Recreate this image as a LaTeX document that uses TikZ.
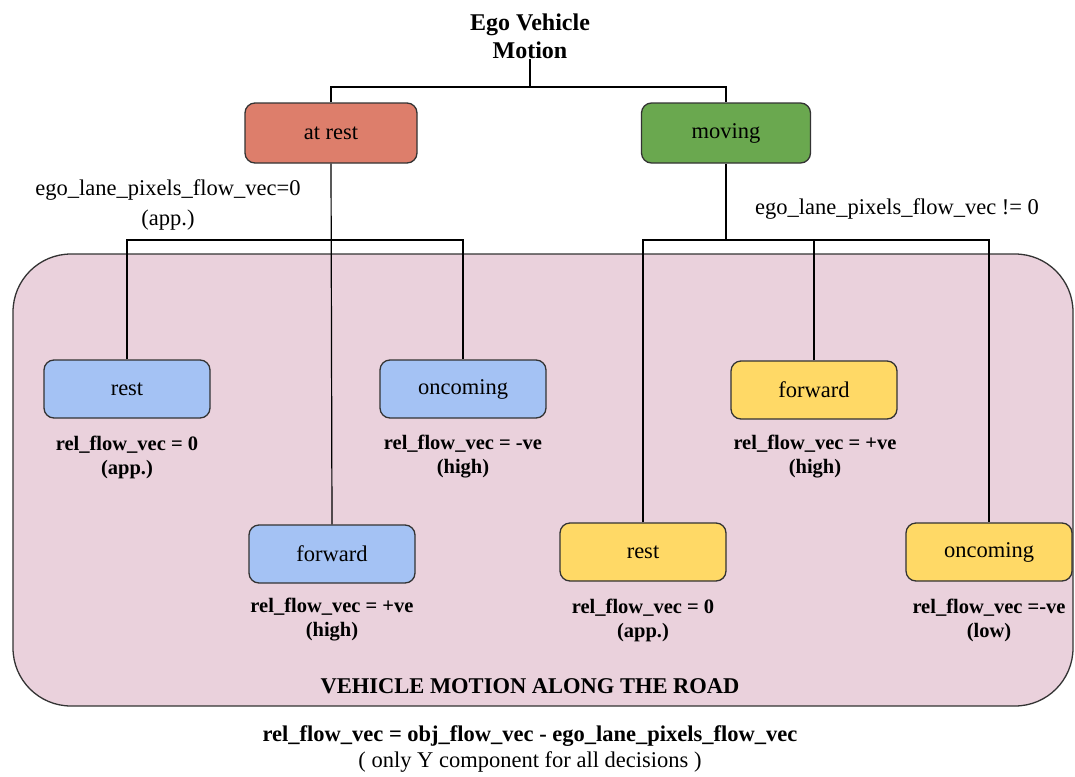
\documentclass[tikz,border=0pt]{standalone}
\usepackage{fontspec}
\setmainfont{Liberation Serif}
\definecolor{restred}{HTML}{DD7E6B}
\definecolor{movegreen}{HTML}{6AA84F}
\definecolor{boxblue}{HTML}{A4C2F4}
\definecolor{boxyellow}{HTML}{FFD966}
\definecolor{roadpink}{HTML}{EAD1DC}
\definecolor{edgegray}{HTML}{333333}
\begin{document}
\begin{tikzpicture}[x=1pt,y=-1pt,
  decision/.style={draw=edgegray, line width=1.3pt, rounded corners=10pt,
    minimum width=166pt, minimum height=58pt, inner sep=0pt,
    font=\fontsize{22.5}{26}\selectfont},
  link/.style={draw=black, line width=1.2pt},
  cond/.style={align=center, inner sep=0pt, font=\fontsize{22.5}{30}\selectfont},
  result/.style={align=center, inner sep=0pt, font=\bfseries\fontsize{20.5}{24}\selectfont}]
\useasboundingbox (0,0) rectangle (1075,776);

% region of motion along the road
\path[fill=roadpink, draw=edgegray, line width=1.3pt, rounded corners=58pt]
  (13,254) rectangle (1073,706);

% root
\node[align=center, inner sep=0pt, font=\bfseries\fontsize{24}{28}\selectfont]
  (title) at (530,36) {Ego Vehicle\\Motion};

% ego states
\node[decision, fill=restred, minimum width=172pt, minimum height=60pt] (atrest) at (331,133) {at rest};
\node[decision, fill=movegreen, minimum width=169pt, minimum height=60pt] (moving) at (726,133) {moving};

% outcomes when ego is at rest
\node[decision, fill=boxblue] (restA) at (127,389) {rest};
\node[decision, fill=boxblue] (oncA) at (463,389) {oncoming};
\node[decision, fill=boxblue] (fwdA) at (332,554) {forward};

% outcomes when ego is moving
\node[decision, fill=boxyellow] (fwdB) at (814,390) {forward};
\node[decision, fill=boxyellow] (restB) at (643,552) {rest};
\node[decision, fill=boxyellow] (oncB) at (989,552) {oncoming};

% junction points
\coordinate (j0) at (530,87);
\coordinate (j1) at (331,240);
\coordinate (j2) at (726,240);

% connectors
\draw[link] (title.south) -- (j0);
\draw[link] (atrest.north) |- (j0) -| (moving.north);
\draw[link] (atrest.south) -- (fwdA.north);
\draw[link] (restA.north) |- (j1) -| (oncA.north);
\draw[link] (moving.south) -- (j2);
\draw[link] (restB.north) |- (j2) -| (oncB.north);
\draw[link] (fwdB.north) -- (fwdB.north |- j2);

% branch conditions
\node[cond] (condA) at (168,205) {ego\_lane\_pixels\_flow\_vec=0\\(app.)};
\node[cond] (condB) at (897,209) {ego\_lane\_pixels\_flow\_vec != 0};

% relative flow results
\node[result] (resRestA) at (127,457) {rel\_flow\_vec = 0\\(app.)};
\node[result] (resOncA) at (463,457) {rel\_flow\_vec = -ve\\(high)};
\node[result] (resFwdA) at (332,620) {rel\_flow\_vec = +ve\\(high)};
\node[result] (resFwdB) at (815,457) {rel\_flow\_vec = +ve\\(high)};
\node[result] (resRestB) at (643,620) {rel\_flow\_vec = 0\\(app.)};
\node[result] (resOncB) at (989,620) {rel\_flow\_vec =-ve\\(low)};

% region caption
\node[inner sep=0pt, font=\bfseries\fontsize{22.5}{26}\selectfont] (road) at (530,686)
  {VEHICLE MOTION ALONG THE ROAD};

% definition
\node[inner sep=0pt, font=\bfseries\fontsize{22.5}{26}\selectfont] (defn) at (530,736)
  {rel\_flow\_vec = obj\_flow\_vec - ego\_lane\_pixels\_flow\_vec};
\node[inner sep=0pt, font=\fontsize{22.5}{26}\selectfont] (note) at (530,762)
  {( only Y component for all decisions )};
\end{tikzpicture}
\end{document}
